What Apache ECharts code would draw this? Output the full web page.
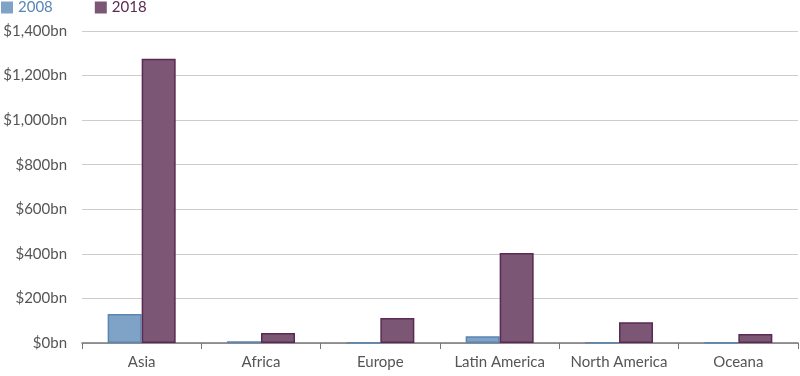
<!DOCTYPE html>
<html>
<head>
<meta charset="utf-8">
<script src="https://cdn.jsdelivr.net/npm/echarts@6/dist/echarts.min.js"></script>
<style>
  html, body { margin: 0; padding: 0; background: #fff; }
  #chart { width: 800px; height: 376px; }
</style>
</head>
<body>
<div id="chart"></div>
<script>
// regions and values ($bn)
var regions = ['Asia', 'Africa', 'Europe', 'Latin America', 'North America', 'Oceana']
var values2008 = [130, 8, 2, 30, 2, 2]
var values2018 = [1275, 45, 112, 404, 93, 40]

var chart = echarts.init(document.getElementById('chart'))

var option = {
  animation: false,
  textStyle: { fontFamily: 'Lato' },
  legend: {
    left: 1,
    top: 0,
    padding: 0,
    itemWidth: 12,
    itemHeight: 12,
    itemGap: 42,
    icon: 'rect',
    itemStyle: { borderWidth: 0 },
    textStyle: { fontSize: 15 },
    data: [
      { name: '2008', textStyle: { color: '#5b85b3' } },
      { name: '2018', textStyle: { color: '#5a2a52' } }
    ]
  },
  grid: { left: 82, right: 2, top: 31, bottom: 33 },
  xAxis: {
    type: 'category',
    data: regions,
    axisLine: { lineStyle: { color: '#777', width: 1.5 } },
    axisTick: { show: true, interval: 0, length: 6, lineStyle: { color: '#777' } },
    axisLabel: { color: '#555', fontSize: 15, margin: 12, interval: 0 }
  },
  yAxis: {
    type: 'value',
    min: 0,
    max: 1400,
    interval: 200,
    axisLine: { show: false },
    axisTick: { show: false },
    splitLine: { lineStyle: { color: '#ccc' } },
    axisLabel: {
      color: '#555',
      fontSize: 15,
      margin: 15,
      formatter: function (v) {
        return '$' + v.toLocaleString('en-US') + 'bn'
      }
    }
  },
  series: [
    {
      name: '2008',
      type: 'bar',
      data: values2008,
      barGap: '0%',
      barCategoryGap: '43%',
      itemStyle: { color: '#7fa3c7', borderColor: '#5b85b3', borderWidth: 1.5 }
    },
    {
      name: '2018',
      type: 'bar',
      data: values2018,
      itemStyle: { color: '#7b5675', borderColor: '#5a2a52', borderWidth: 1.5 }
    }
  ]
}

chart.setOption(option)
</script>
</body>
</html>
